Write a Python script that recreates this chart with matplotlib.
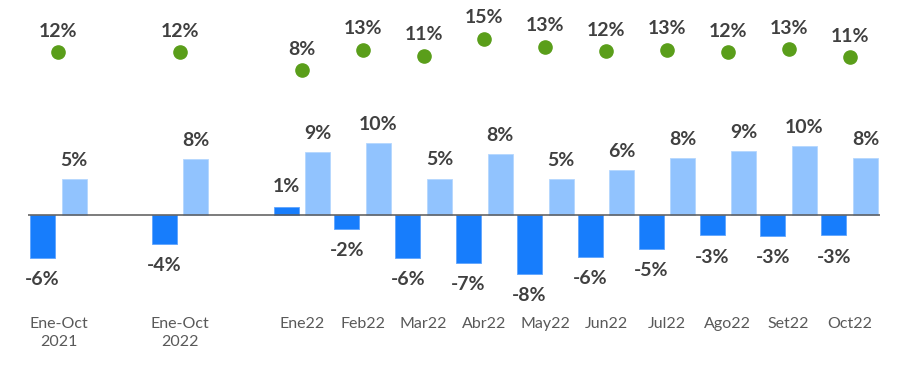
import matplotlib
matplotlib.use("Agg")
import matplotlib.pyplot as plt
import numpy as np

categories = ["Ene-Oct\n2021", "Ene-Oct\n2022", "Ene22", "Feb22", "Mar22", "Abr22",
              "May22", "Jun22", "Jul22", "Ago22", "Set22", "Oct22"]
dark_vals = [-5.9, -4.0, 1.1, -1.9, -5.9, -6.6, -8.1, -5.7, -4.7, -2.8, -2.9, -2.8]
light_vals = [4.9, 7.7, 8.6, 9.9, 5.0, 8.4, 4.9, 6.2, 7.8, 8.7, 9.5, 7.8]
green_vals = [12.0, 12.0, 8.0, 12.6, 11.2, 15.0, 13.2, 12.2, 12.6, 12.0, 12.7, 10.9]

xpos = np.array([0, 2] + list(range(4, 14)), dtype=float)

DARK = "#177DFC"
LIGHT = "#91C3FE"
GREEN = "#5A9E1A"
TXT = "#404040"
FONT = "Lato"

W, H = 907, 367
fig = plt.figure(figsize=(W / 100, H / 100), dpi=100)
ax_left, ax_right = 28, 880
ax_top, ax_bot = 10, 300
ax = fig.add_axes([ax_left / W, 1 - ax_bot / H, (ax_right - ax_left) / W, (ax_bot - ax_top) / H])

zero_px, ppu = 215.0, 7.3
ax.set_ylim(-(ax_bot - zero_px) / ppu, (zero_px - ax_top) / ppu)
ax.set_xlim(-0.5, 13.5)

bw = 0.41
off = 0.26
ax.bar(xpos - off, dark_vals, width=bw, color=DARK, edgecolor="#5FA4FD", linewidth=0.6, zorder=2)
ax.bar(xpos + off, light_vals, width=bw, color=LIGHT, edgecolor="#B5D7FE", linewidth=0.6, zorder=2)
ax.axhline(0, color="#595959", lw=1.1, zorder=3)

LFS = 14
for x, v in zip(xpos, dark_vals):
    dy = 14.5 if v > 0 else -15.6
    ax.annotate(f"{v:.0f}%", (x - off, v), xytext=(0, dy), textcoords="offset points",
                ha="center", va="center", fontsize=LFS, fontweight="bold", color=TXT, family=FONT)
for x, v in zip(xpos, light_vals):
    ax.annotate(f"{v:.0f}%", (x + off, v), xytext=(0, 13.4), textcoords="offset points",
                ha="center", va="center", fontsize=LFS, fontweight="bold", color=TXT, family=FONT)

ax2 = ax.twinx()
gz, gppu = 106.2, 4.5
ax2.set_ylim(-(ax_bot - gz) / gppu, (gz - ax_top) / gppu)
ax2.plot(xpos, green_vals, "o", color=GREEN, markersize=9.5, zorder=4)
for x, v in zip(xpos, green_vals):
    ax2.annotate(f"{v:.0f}%", (x, v), xytext=(0, 15.1), textcoords="offset points",
                 ha="center", va="center", fontsize=LFS, fontweight="bold", color=TXT, family=FONT)

for a in (ax, ax2):
    for s in a.spines.values():
        s.set_visible(False)
    a.set_yticks([])
ax2.set_xticks([])

ax.set_xticks(xpos)
ax.set_xticklabels(categories, fontsize=11.5, color="#595959", family=FONT, linespacing=1.35)
ax.tick_params(axis="x", length=0, pad=12)

fig.savefig("out.png", dpi=100)
